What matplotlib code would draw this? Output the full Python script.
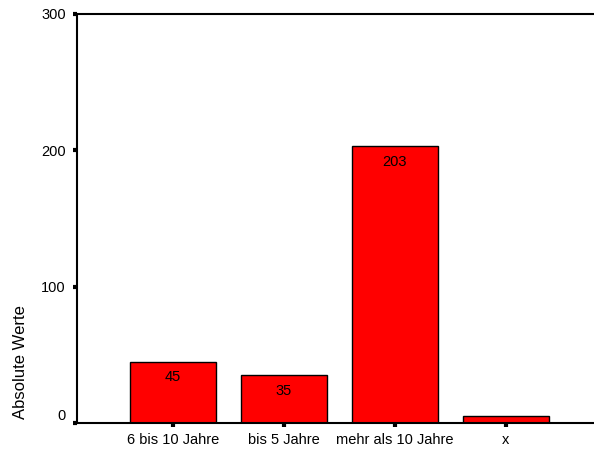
import matplotlib
matplotlib.use("Agg")
import matplotlib.pyplot as plt
import matplotlib.transforms as mtransforms

categories = ["6 bis 10 Jahre", "bis 5 Jahre", "mehr als 10 Jahre", "x"]
values = [45, 35, 203, 5]
bar_labels = ["45", "35", "203", ""]
y_ticks = [0, 100, 200, 300]

plt.rcParams["font.family"] = ["Liberation Sans", "DejaVu Sans"]

fig = plt.figure(figsize=(5.94, 4.49), dpi=100)
ax = fig.add_axes([77 / 594, 26 / 449, 517 / 594, 409 / 449])

x = list(range(len(categories)))
bars = ax.bar(
    x,
    values,
    width=0.77,
    color="#ff0000",
    edgecolor="black",
    linewidth=1.0,
)

for rect, lab in zip(bars, bar_labels):
    if lab:
        ax.annotate(
            lab,
            (rect.get_x() + rect.get_width() / 2, rect.get_height()),
            xytext=(0, -11),
            textcoords="offset points",
            ha="center",
            va="center",
            fontsize=10.5,
        )

ax.set_xlim(-0.865, 3.793)
ax.set_ylim(0, 300)
ax.set_xticks(x)
ax.set_xticklabels(categories, fontsize=10.5)
ax.set_yticks(y_ticks)
ax.set_yticklabels([str(v) for v in y_ticks], fontsize=10.5)

ax.tick_params(axis="both", direction="out", length=3, width=3, color="black")
ax.tick_params(axis="y", pad=5)
ax.tick_params(axis="x", pad=4)

# the zero label sits a little above its tick
lab0 = ax.get_yticklabels()[0]
lab0.set_transform(lab0.get_transform() + mtransforms.ScaledTranslation(0, 6 / 72, fig.dpi_scale_trans))

for side in ["left", "bottom", "top"]:
    ax.spines[side].set_linewidth(1.5)
ax.spines["right"].set_visible(False)

ax.set_ylabel("Absolute Werte", fontsize=12)
ax.yaxis.set_label_coords(-0.095, 0.15)

fig.savefig("out.png", dpi=100)
plt.close(fig)
